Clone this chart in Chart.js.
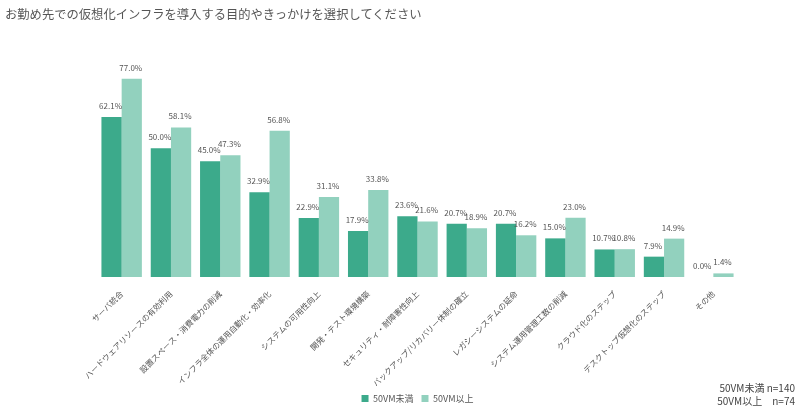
<!DOCTYPE html>
<html>
<head>
<meta charset="utf-8">
<script src="https://cdn.jsdelivr.net/npm/chart.js@4"></script>
<style>
  html, body { margin: 0; padding: 0; background: #fff; }
  #wrap { position: relative; width: 800px; height: 414px; }
  #title {
    position: absolute; left: 5px; top: 5px;
    font: 12.3px "Noto Sans CJK JP", "DejaVu Sans", sans-serif;
    color: #555; white-space: nowrap;
  }
  #note {
    position: absolute; right: 5px; top: 381px;
    font: 10px "Noto Sans CJK JP", "DejaVu Sans", sans-serif;
    color: #444; text-align: right; line-height: 13px;
  }
</style>
</head>
<body>
<div id="wrap">
  <canvas id="chart" width="800" height="414"></canvas>
  <div id="title">お勤め先での仮想化インフラを導入する目的やきっかけを選択してください</div>
  <div id="note">50VM未満 n=140<br>50VM以上　n=74</div>
</div>
<script>
// カテゴリと値
const categories = [
  "サーバ統合",
  "ハードウェアリソースの有効利用",
  "設置スペース・消費電力の削減",
  "インフラ全体の運用自動化・効率化",
  "システムの可用性向上",
  "開発・テスト環境構築",
  "セキュリティ・耐障害性向上",
  "バックアップ/リカバリー体制の確立",
  "レガシーシステムの延命",
  "システム運用管理工数の削減",
  "クラウド化のステップ",
  "デスクトップ仮想化のステップ",
  "その他"
];
const under50 = [62.1, 50.0, 45.0, 32.9, 22.9, 17.9, 23.6, 20.7, 20.7, 15.0, 10.7, 7.9, 0.0];
const over50 = [77.0, 58.1, 47.3, 56.8, 31.1, 33.8, 21.6, 18.9, 16.2, 23.0, 10.8, 14.9, 1.4];
const seriesNames = ["50VM未満", "50VM以上"];

const FONT = '"Noto Sans CJK JP", "DejaVu Sans", sans-serif';

// 棒の上に値ラベルを描く
const valueLabels = {
  id: "valueLabels",
  afterDatasetsDraw(chart) {
    const ctx = chart.ctx;
    ctx.save();
    ctx.font = "8px " + FONT;
    ctx.fillStyle = "#555";
    ctx.textAlign = "center";
    ctx.textBaseline = "bottom";
    chart.data.datasets.forEach((ds, i) => {
      chart.getDatasetMeta(i).data.forEach((bar, j) => {
        ctx.fillText(ds.data[j].toFixed(1) + "%", bar.x - 1, bar.y - 7);
      });
    });
    ctx.restore();
  }
};

new Chart(document.getElementById("chart"), {
  type: "bar",
  data: {
    labels: categories,
    datasets: [
      { label: seriesNames[0], data: under50, backgroundColor: "#3caa8b" },
      { label: seriesNames[1], data: over50, backgroundColor: "#92d1be" }
    ]
  },
  options: {
    responsive: false,
    animation: false,
    layout: { padding: { left: 97, right: 62, top: 71, bottom: 1 } },
    datasets: { bar: { barPercentage: 1, categoryPercentage: 0.82 } },
    scales: {
      x: {
        grid: { display: false },
        border: { display: false },
        ticks: {
          color: "#555",
          font: { family: FONT, size: 8 },
          maxRotation: 45, minRotation: 45,
          autoSkip: false,
          padding: 4
        },
        // ラベル領域の高さを固定
        afterFit(scale) { scale.height = 109; }
      },
      y: { display: false, min: 0, max: 80 }
    },
    plugins: {
      legend: {
        position: "bottom",
        fullSize: false,
        labels: {
          boxWidth: 7, boxHeight: 7,
          color: "#555",
          font: { family: FONT, size: 9 },
          padding: 8
        }
      },
      tooltip: { enabled: false }
    }
  },
  plugins: [valueLabels]
});
</script>
</body>
</html>
